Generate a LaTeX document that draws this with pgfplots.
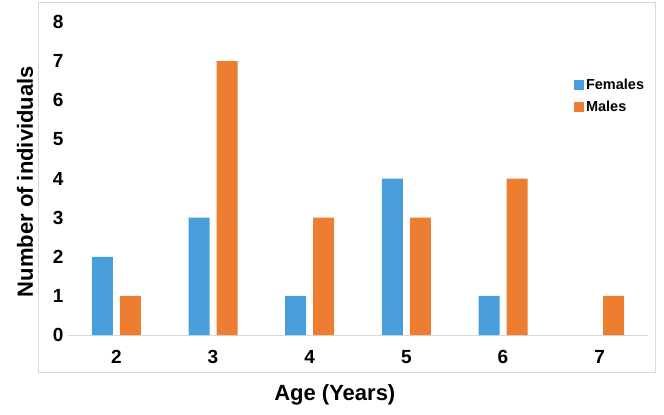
\documentclass[border=0pt]{standalone}
\usepackage{pgfplots}
\pgfplotsset{compat=1.18}
\usepackage{fontspec}
\setmainfont{Liberation Sans}
\definecolor{fblue}{HTML}{4A9ED9}
\definecolor{morange}{HTML}{ED7D31}
\definecolor{framegray}{HTML}{D9D9D9}
\begin{document}
\begin{tikzpicture}
\path (-68pt,-80pt) rectangle (596pt,335pt);
\draw[framegray, line width=0.8pt] (-30pt,-37pt) rectangle (587pt,333pt);
\begin{axis}[
  at={(0pt,0pt)}, anchor=south west,
  scale only axis, width=580pt, height=313pt,
  ybar=7pt, bar width=21pt,
  xmin=1.5, xmax=7.5, ymin=0, ymax=8,
  xtick={2,3,4,5,6,7}, ytick={0,1,...,8},
  major tick length=0pt,
  axis x line*=bottom, axis y line*=left,
  x axis line style={draw=framegray, line width=0.8pt, -},
  y axis line style={draw=none},
  /pgf/number format/assume math mode=true,
  ticklabel style={font=\fontsize{19}{21}\selectfont\bfseries},
  xticklabel style={yshift=-12pt},
  yticklabel style={xshift=-1pt},
  xlabel={Age (Years)}, ylabel={Number of individuals},
  label style={font=\fontsize{22}{24}\selectfont\bfseries},
  xlabel style={at={(axis description cs:0.46,-0.192)}, anchor=center},
  ylabel style={at={(axis description cs:-0.074,0.49)}, anchor=center},
  legend cell align=left,
  legend style={at={(axis description cs:0.867,0.83)}, anchor=north west, draw=none, fill=none,
    font=\fontsize{14.5}{16}\selectfont\bfseries, row sep=6pt,
    /tikz/every odd column/.append style={column sep=0pt}},
  legend image code/.code={\fill (0pt,-5pt) rectangle (10pt,5pt);},
  clip=false,
]
\addplot[fill=fblue, draw=none] coordinates {(2,2) (3,3) (4,1) (5,4) (6,1)};
\addplot[fill=morange, draw=none] coordinates {(2,1) (3,7) (4,3) (5,3) (6,4) (7,1)};
\legend{Females, Males}
\end{axis}
\end{tikzpicture}
\end{document}
